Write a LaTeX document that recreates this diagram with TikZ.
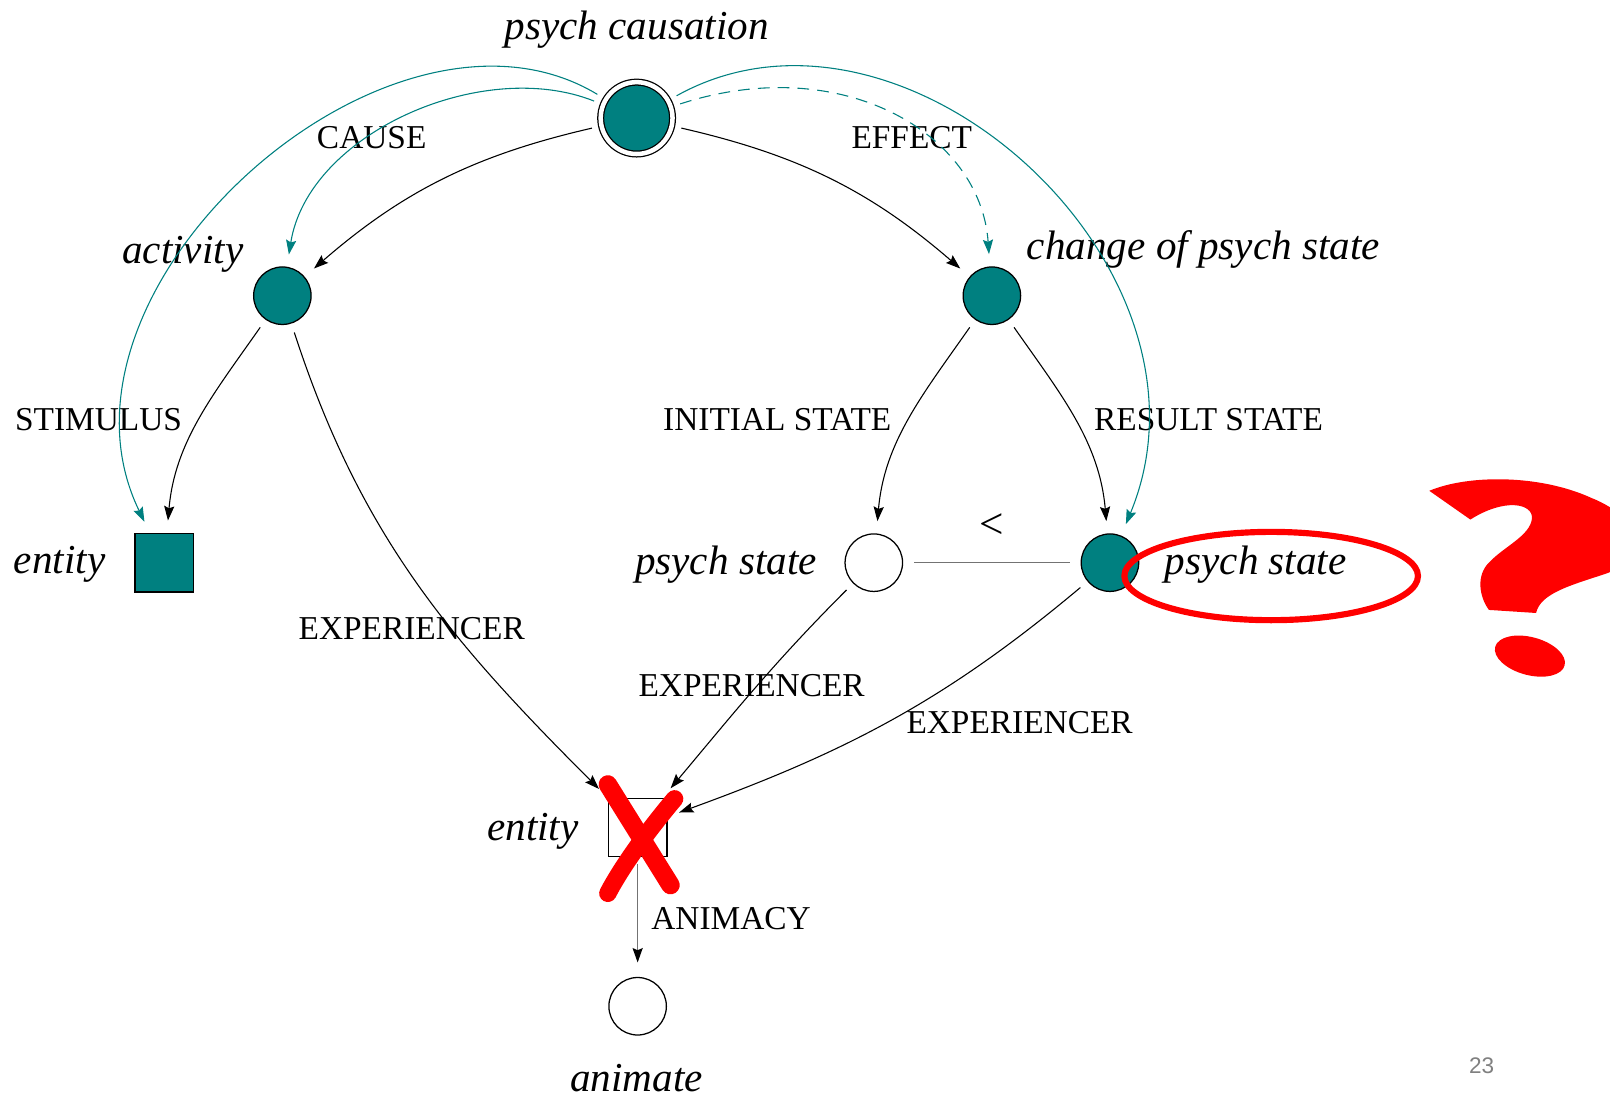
\documentclass[tikz,border=0pt]{standalone}
\usepackage{fontspec}
\setmainfont{Liberation Serif}
\newfontfamily\slidefont{Liberation Sans}
\usetikzlibrary{arrows.meta}
\definecolor{psyteal}{RGB}{0,128,128}
\definecolor{markred}{RGB}{255,0,0}
\tikzset{
	x=0.02cm, y=0.02cm,
	>={Stealth[length=8pt,width=5.6pt,inset=1.2pt]},
	sit/.style={circle,draw,line width=0.7pt,minimum size=1.12cm,inner sep=0pt},
	thing/.style={rectangle,draw,line width=0.7pt,minimum size=1.14cm,inner sep=0pt},
	full/.style={fill=psyteal},
	typ/.style={inner sep=0pt,font=\fontsize{22.8}{27}\selectfont\itshape,text height=0.7em,text depth=0.22em},
	role/.style={inner sep=0pt,font=\fontsize{18.5}{22}\selectfont,text height=0.66em,text depth=0pt},
	rel/.style={line width=0.6pt,shorten <=0.18cm,shorten >=0.24cm},
	link/.style={rel,psyteal,->},
}
\begin{document}
\begin{tikzpicture}
			\useasboundingbox (0,0) rectangle (1568,-1074);
			\node[sit,full,double,double distance=2.5pt,minimum size=1.4cm] (pc) at (620,-115) {};
			\node[sit,full] (act) at (275,-288) {};
			\node[sit,full] (chg) at (966,-288) {};
			\node[thing,full] (ent) at (160,-548) {};
			\node[sit] (ps) at (851,-548) {};
			\node[sit,full] (psr) at (1081,-548) {};
			\node[thing] (exp) at (621,-806) {};
			\node[sit] (anim) at (621,-980) {};
			\node[typ] (tpc) at (620,-34) {psych causation};
			\node[typ] (tact) at (178,-252) {activity};
			\node[typ] (tchg) at (1172,-249) {change of psych state};
			\node[typ] (tent) at (58,-554) {entity};
			\node[typ] (tps) at (707,-555) {psych state};
			\node[typ] (tpsr) at (1223,-555) {psych state};
			\node[typ] (texp) at (519,-814) {entity};
			\node[typ,text depth=0pt] (tanim) at (620,-1057) {animate};
			\node[role] (rcause) at (362,-139) {CAUSE};
			\node[role] (reffect) at (888,-139) {EFFECT};
			\node[role] (rstim) at (96,-413) {STIMULUS};
			\node[role] (rinit) at (757,-413) {INITIAL STATE};
			\node[role] (rres) at (1177,-413) {RESULT STATE};
			\node[role] (rexpa) at (401,-617) {EXPERIENCER};
			\node[role] (rexpb) at (732,-673) {EXPERIENCER};
			\node[role] (rexpc) at (993,-709) {EXPERIENCER};
			\node[role] (ranim) at (712,-899) {ANIMACY};
			\node[font=\fontsize{24}{28}\selectfont,inner sep=0pt] (lt) at (966,-512) {<};
			\node[font=\slidefont\fontsize{12.5}{15}\selectfont,text=gray,inner sep=0pt] (pg) at (1443,-1038) {23};
			\path[->,rel]
			(pc) edge[bend right=14] (act) edge[bend left=14] (chg)
			(act) edge[out=235,in=85] (ent) edge[out=-72,in=135] (exp)
			(chg) edge[out=235,in=85] (ps) edge[out=-55,in=95] (psr)
			(ps) edge[out=225,in=50] (exp)
			(psr) edge[out=220,in=20] (exp);
			\draw[line width=0.7pt,black!55,shorten <=0.12cm,shorten >=0.28cm,-{Stealth[length=8pt,width=5.6pt,inset=1.2pt,color=black]}] (exp) -- (anim);
			\draw[line width=0.7pt,black!55,shorten <=0.22cm,shorten >=0.2cm] (ps) -- (psr);
			\draw[link] (pc) .. controls (470,-55) and (300,-130) .. (act);
			\draw[link] (pc) .. controls (380,30) and (30,-280) .. (ent);
			\draw[link] (pc) .. controls (880,30) and (1200,-260) .. (psr);
			\draw[link,dash pattern=on 6.5pt off 4.5pt] (pc) .. controls (820,-50) and (955,-130) .. (chg);
			\draw[markred,line width=0.36cm,line cap=round] (592,-764) -- (653,-862);
			\draw[markred,line width=0.34cm,line cap=round] (657,-778) .. controls (630,-810) and (605,-845) .. (592,-870);
			\draw[markred,line width=0.12cm] (1238,-561) ellipse [x radius=2.86cm,y radius=0.86cm];
			\fill[markred] (1392,-478) .. controls (1430,-462) and (1500,-462) .. (1550,-485) .. controls (1600,-505) and (1610,-545) .. (1560,-560) .. controls (1530,-570) and (1500,-578) .. (1496,-597) -- (1450,-594) .. controls (1440,-580) and (1438,-560) .. (1450,-548) .. controls (1465,-532) and (1490,-522) .. (1492,-505) .. controls (1493,-490) and (1465,-485) .. (1432,-506) -- cycle;
			\fill[markred,rotate around={-15:(1490,-639)}] (1490,-639) ellipse [x radius=0.7cm,y radius=0.37cm];
		\end{tikzpicture}
\end{document}
